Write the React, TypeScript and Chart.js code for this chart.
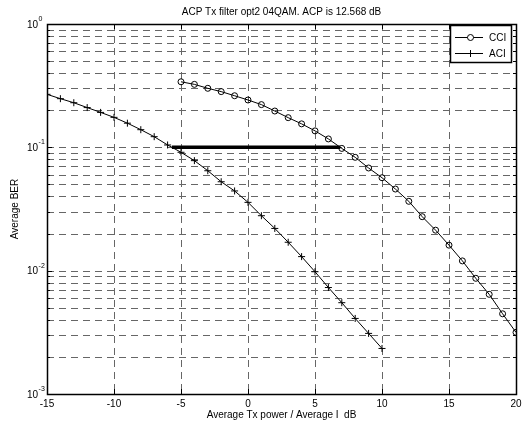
import React, { useEffect, useRef } from "react";
import { Chart, registerables } from "chart.js";

Chart.register(...registerables);

const titleText = "ACP Tx filter opt2 04QAM. ACP is 12.568 dB";
const xLabel = "Average Tx power / Average I  dB";
const yLabel = "Average BER";

const cciX = [-5, -4, -3, -2, -1, 0, 1, 2, 3, 4, 5, 6, 7, 8, 9, 10, 11, 12, 13, 14, 15, 16, 17, 18, 19, 20];
const cciY = [0.34, 0.324, 0.301, 0.283, 0.262, 0.242, 0.222, 0.197, 0.174, 0.155, 0.136, 0.117, 0.098, 0.083, 0.068, 0.0567, 0.0459, 0.0365, 0.0274, 0.0213, 0.0161, 0.012, 0.00867, 0.00643, 0.00447, 0.00316];

const aciX = [-15, -14, -13, -12, -11, -10, -9, -8, -7, -6, -5, -4, -3, -2, -1, 0, 1, 2, 3, 4, 5, 6, 7, 8, 9, 10];
const aciY = [0.269, 0.248, 0.23, 0.21, 0.192, 0.175, 0.157, 0.139, 0.122, 0.1045, 0.0912, 0.078, 0.0646, 0.0526, 0.0443, 0.0358, 0.0279, 0.022, 0.017, 0.013, 0.0098, 0.0073, 0.0055, 0.0041, 0.0031, 0.00234];

const acpX = [-5.68, 6.89];
const acpY = [0.1, 0.1];

const xTicks = [-15, -10, -5, 0, 5, 10, 15, 20];
const yMajorTicks = [0.001, 0.01, 0.1, 1];
const yMajorExp = ["-3", "-2", "-1", "0"];
const yMinorTicks = [
  0.002, 0.003, 0.004, 0.005, 0.006, 0.007, 0.008, 0.009,
  0.02, 0.03, 0.04, 0.05, 0.06, 0.07, 0.08, 0.09,
  0.2, 0.3, 0.4, 0.5, 0.6, 0.7, 0.8, 0.9,
];

const legendLabels = ["CCI", "ACI"];
const FONT = "'Liberation Sans', Arial, sans-serif";

const decorPlugin = {
  id: "decor",
  beforeDatasetsDraw(chart: any) {
    const { ctx, chartArea: a, scales } = chart;
    const xs = scales.x;
    const ys = scales.y;
    ctx.save();
    ctx.strokeStyle = "#666";
    ctx.lineWidth = 1;
    ctx.setLineDash([7, 5]);
    xTicks.forEach((v) => {
      const px = Math.round(xs.getPixelForValue(v)) + 0.5;
      ctx.beginPath();
      ctx.moveTo(px, a.top);
      ctx.lineTo(px, a.bottom);
      ctx.stroke();
    });
    [...yMajorTicks, ...yMinorTicks].forEach((v) => {
      const py = Math.round(ys.getPixelForValue(v)) + 0.5;
      ctx.beginPath();
      ctx.moveTo(a.left, py);
      ctx.lineTo(a.right, py);
      ctx.stroke();
    });
    ctx.restore();
  },
  afterDraw(chart: any) {
    const { ctx, chartArea: a, scales } = chart;
    const xs = scales.x;
    const ys = scales.y;
    ctx.save();
    ctx.setLineDash([]);
    ctx.strokeStyle = "#000";
    ctx.lineWidth = 1.5;
    // border
    ctx.strokeRect(Math.round(a.left) + 0.5, Math.round(a.top) + 0.5, Math.round(a.right - a.left), Math.round(a.bottom - a.top));
    // ticks
    ctx.lineWidth = 1;
    ctx.beginPath();
    xTicks.forEach((v) => {
      const px = Math.round(xs.getPixelForValue(v)) + 0.5;
      ctx.moveTo(px, a.bottom);
      ctx.lineTo(px, a.bottom - 5);
      ctx.moveTo(px, a.top);
      ctx.lineTo(px, a.top + 5);
    });
    yMajorTicks.forEach((v) => {
      const py = Math.round(ys.getPixelForValue(v)) + 0.5;
      ctx.moveTo(a.left, py);
      ctx.lineTo(a.left + 5, py);
      ctx.moveTo(a.right, py);
      ctx.lineTo(a.right - 5, py);
    });
    yMinorTicks.forEach((v) => {
      const py = Math.round(ys.getPixelForValue(v)) + 0.5;
      ctx.moveTo(a.left, py);
      ctx.lineTo(a.left + 3, py);
      ctx.moveTo(a.right, py);
      ctx.lineTo(a.right - 3, py);
    });
    ctx.stroke();

    // tick labels
    ctx.fillStyle = "#000";
    ctx.font = `10px ${FONT}`;
    ctx.textAlign = "center";
    ctx.textBaseline = "middle";
    xTicks.forEach((v) => {
      ctx.fillText(String(v), xs.getPixelForValue(v), a.bottom + 10);
    });
    yMajorTicks.forEach((v, i) => {
      const py = ys.getPixelForValue(v);
      ctx.font = `10px ${FONT}`;
      ctx.textAlign = "left";
      ctx.fillText("10", 27, py + 1);
      const w = ctx.measureText("10").width;
      ctx.font = `7px ${FONT}`;
      ctx.fillText(yMajorExp[i], 27 + w + 0.5, py - 5);
    });

    // axis titles
    ctx.font = `10px ${FONT}`;
    ctx.textAlign = "center";
    ctx.fillText(xLabel, (a.left + a.right) / 2, 415);
    ctx.fillText(titleText, (a.left + a.right) / 2, 12);
    ctx.save();
    ctx.translate(15, (a.top + a.bottom) / 2);
    ctx.rotate(-Math.PI / 2);
    ctx.fillText(yLabel, 0, 0);
    ctx.restore();

    // legend
    const bx = 450.5, by = 25.5, bw = 61, bh = 37;
    ctx.fillStyle = "#fff";
    ctx.fillRect(bx, by, bw, bh);
    ctx.strokeStyle = "#000";
    ctx.lineWidth = 1.5;
    ctx.strokeRect(bx, by, bw, bh);
    ctx.lineWidth = 1;
    const rows = [37.5, 53.5];
    rows.forEach((ry, i) => {
      ctx.beginPath();
      ctx.moveTo(455, ry);
      ctx.lineTo(483, ry);
      ctx.stroke();
      if (i === 0) {
        ctx.fillStyle = "#fff";
        ctx.beginPath();
        ctx.arc(470.5, ry, 3, 0, Math.PI * 2);
        ctx.fill();
        ctx.stroke();
      } else {
        ctx.beginPath();
        ctx.moveTo(470.5, ry - 3.5);
        ctx.lineTo(470.5, ry + 3.5);
        ctx.stroke();
      }
      ctx.fillStyle = "#000";
      ctx.font = `10px ${FONT}`;
      ctx.textAlign = "left";
      ctx.textBaseline = "middle";
      ctx.fillText(legendLabels[i], 489, ry + 0.5);
    });
    ctx.restore();
  },
};

export default function App() {
  const ref = useRef<HTMLCanvasElement | null>(null);
  useEffect(() => {
    document.body.style.margin = "0";
    if (!ref.current) return;
    const chart = new Chart(ref.current, {
      type: "line",
      data: {
        datasets: [
          {
            label: "CCI",
            data: cciX.map((x, i) => ({ x, y: cciY[i] })),
            borderColor: "#000",
            backgroundColor: "rgba(0,0,0,0)",
            borderWidth: 1,
            pointStyle: "circle",
            pointRadius: 3,
            pointBorderWidth: 1,
            pointBorderColor: "#000",
            pointBackgroundColor: "rgba(0,0,0,0)",
            tension: 0,
          },
          {
            label: "ACI",
            data: aciX.map((x, i) => ({ x, y: aciY[i] })),
            borderColor: "#000",
            backgroundColor: "rgba(0,0,0,0)",
            borderWidth: 1,
            pointStyle: "cross",
            pointRadius: 3.5,
            pointBorderWidth: 1,
            pointBorderColor: "#000",
            tension: 0,
          },
          {
            label: "ACP",
            data: acpX.map((x, i) => ({ x, y: acpY[i] })),
            borderColor: "#000",
            borderWidth: 3.5,
            pointRadius: 0,
            borderCapStyle: "butt",
          },
        ],
      },
      options: {
        responsive: false,
        animation: false,
        devicePixelRatio: 1,
        layout: { padding: { left: 47, right: 6, top: 24, bottom: 36 } },
        plugins: {
          legend: { display: false },
          title: { display: false },
          tooltip: { enabled: false },
        },
        scales: {
          x: {
            type: "linear",
            min: -15,
            max: 20,
            ticks: { display: false },
            grid: { display: false, drawTicks: false },
            border: { display: false },
          },
          y: {
            type: "logarithmic",
            min: 0.001,
            max: 1,
            ticks: { display: false },
            grid: { display: false, drawTicks: false },
            border: { display: false },
          },
        },
      },
      plugins: [decorPlugin],
    });
    return () => chart.destroy();
  }, []);
  return (
    <div style={{ position: "absolute", left: 0, top: 0, width: 522, height: 430, background: "#fff" }}>
      <canvas ref={ref} width={522} height={430} style={{ width: 522, height: 430 }} />
    </div>
  );
}
